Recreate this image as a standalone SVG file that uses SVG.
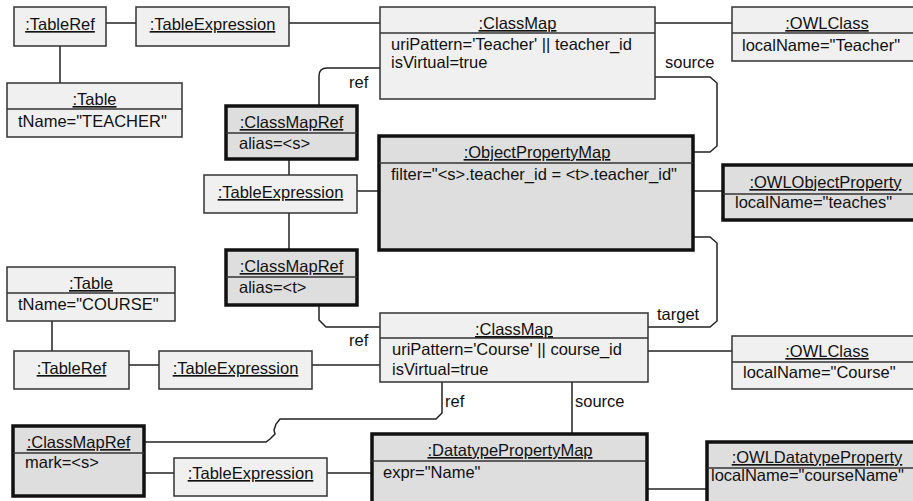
<svg xmlns="http://www.w3.org/2000/svg" width="913" height="501" viewBox="0 0 913 501">
  <style>
    text { font-family: "Liberation Sans", Arial, sans-serif; font-size: 16.5px; fill: #111; }
    .t { text-anchor: middle; text-decoration: underline; }
    .lt { fill: #f0f0f0; stroke: #333; stroke-width: 1.5; }
    .dk { fill: #dedede; stroke: #111; stroke-width: 3.5; }
    .dv { stroke: #333; stroke-width: 1.5; }
    .cn { fill: none; stroke: #222; stroke-width: 1.5; }
  </style>

  <rect width="913" height="501" fill="#ffffff"/>

  <!-- connectors -->
  <g id="connectors">
    <line class="cn" x1="106" y1="23" x2="136" y2="23"/>
    <line class="cn" x1="289" y1="23" x2="380" y2="23"/>
    <line class="cn" x1="60" y1="46" x2="60" y2="83"/>
    <line class="cn" x1="655" y1="23" x2="732" y2="23"/>
    <path class="cn" d="M380,68 H327 Q319,68 319,76 V106"/>
    <text x="349" y="88">ref</text>
    <path class="cn" d="M655,77 H710 L717,83 V146 L710,152 H693"/>
    <text x="665" y="68">source</text>
    <line class="cn" x1="289" y1="159" x2="289" y2="175"/>
    <line class="cn" x1="357" y1="191" x2="379" y2="191"/>
    <line class="cn" x1="693" y1="191" x2="723" y2="191"/>
    <line class="cn" x1="289" y1="213" x2="289" y2="250"/>
    <path class="cn" d="M319,305 V320 L326,327 H380"/>
    <text x="349" y="346">ref</text>
    <path class="cn" d="M693,237 H710 L717,243 V321 L710,327 H648"/>
    <text x="657" y="320">target</text>
    <line class="cn" x1="52" y1="321" x2="52" y2="351"/>
    <line class="cn" x1="129" y1="365" x2="159" y2="365"/>
    <line class="cn" x1="312" y1="365" x2="380" y2="365"/>
    <line class="cn" x1="648" y1="351" x2="732" y2="351"/>
    <path class="cn" d="M442,382 V413 L436,419 H280 L276,424 L274,430 L275,434 L270,439 L266,442 H144"/>
    <text x="445" y="407">ref</text>
    <line class="cn" x1="572" y1="382" x2="572" y2="434"/>
    <text x="575" y="407">source</text>
    <line class="cn" x1="144" y1="473" x2="174" y2="473"/>
    <line class="cn" x1="327" y1="473" x2="372" y2="473"/>
    <line class="cn" x1="647" y1="489" x2="707" y2="489"/>
  </g>

  <!-- nodes -->
  <g id="tableref-teacher">
    <rect class="lt" x="14" y="7" width="92" height="39"/>
    <text class="t" x="60" y="30">:TableRef</text>
  </g>
  <g id="tableexpr-teacher">
    <rect class="lt" x="136" y="7" width="153" height="39"/>
    <text class="t" x="212.5" y="30">:TableExpression</text>
  </g>
  <g id="classmap-teacher">
    <rect class="lt" x="380" y="7" width="275" height="92"/>
    <line class="dv" x1="380" y1="33" x2="655" y2="33"/>
    <text class="t" x="517.5" y="29">:ClassMap</text>
    <text x="391" y="50">uriPattern='Teacher' || teacher_id</text>
    <text x="391" y="68">isVirtual=true</text>
  </g>
  <g id="owlclass-teacher">
    <rect class="lt" x="732" y="7" width="190" height="54"/>
    <line class="dv" x1="732" y1="33" x2="922" y2="33"/>
    <text class="t" x="827" y="29">:OWLClass</text>
    <text x="742" y="51">localName="Teacher"</text>
  </g>
  <g id="table-teacher">
    <rect class="lt" x="7" y="83" width="175" height="54"/>
    <line class="dv" x1="7" y1="109" x2="182" y2="109"/>
    <text class="t" x="94.5" y="105">:Table</text>
    <text x="18" y="127">tName="TEACHER"</text>
  </g>
  <g id="classmapref-s">
    <rect class="dk" x="226" y="106" width="131" height="53"/>
    <line class="dv" x1="226" y1="133" x2="357" y2="133"/>
    <text class="t" x="291.5" y="128">:ClassMapRef</text>
    <text x="239" y="149">alias=&lt;s&gt;</text>
  </g>
  <g id="tableexpr-join">
    <rect class="lt" x="204" y="175" width="153" height="38"/>
    <text class="t" x="280.5" y="198">:TableExpression</text>
  </g>
  <g id="objectpropertymap">
    <rect class="dk" x="379" y="136" width="314" height="114"/>
    <line class="dv" x1="379" y1="163" x2="693" y2="163"/>
    <text class="t" x="537" y="158">:ObjectPropertyMap</text>
    <text x="391" y="180">filter="&lt;s&gt;.teacher_id = &lt;t&gt;.teacher_id"</text>
  </g>
  <g id="owlobjectproperty">
    <rect class="dk" x="723" y="165" width="205" height="55"/>
    <line class="dv" x1="723" y1="194" x2="928" y2="194"/>
    <text class="t" x="825.5" y="188">:OWLObjectProperty</text>
    <text x="735" y="208">localName="teaches"</text>
  </g>
  <g id="classmapref-t">
    <rect class="dk" x="226" y="250" width="131" height="55"/>
    <line class="dv" x1="226" y1="277" x2="357" y2="277"/>
    <text class="t" x="291.5" y="272">:ClassMapRef</text>
    <text x="239" y="293">alias=&lt;t&gt;</text>
  </g>
  <g id="table-course">
    <rect class="lt" x="7" y="267" width="168" height="54"/>
    <line class="dv" x1="7" y1="293" x2="175" y2="293"/>
    <text class="t" x="91" y="289">:Table</text>
    <text x="18" y="310">tName="COURSE"</text>
  </g>
  <g id="classmap-course">
    <rect class="lt" x="380" y="313" width="268" height="69"/>
    <line class="dv" x1="380" y1="338" x2="648" y2="338"/>
    <text class="t" x="514" y="335">:ClassMap</text>
    <text x="392" y="355">uriPattern='Course' || course_id</text>
    <text x="392" y="375">isVirtual=true</text>
  </g>
  <g id="owlclass-course">
    <rect class="lt" x="732" y="336" width="190" height="53"/>
    <line class="dv" x1="732" y1="362" x2="922" y2="362"/>
    <text class="t" x="827" y="357">:OWLClass</text>
    <text x="743" y="378">localName="Course"</text>
  </g>
  <g id="tableref-course">
    <rect class="lt" x="14" y="351" width="115" height="38"/>
    <text class="t" x="71.5" y="374">:TableRef</text>
  </g>
  <g id="tableexpr-course">
    <rect class="lt" x="159" y="351" width="153" height="38"/>
    <text class="t" x="235.5" y="374">:TableExpression</text>
  </g>
  <g id="classmapref-mark">
    <rect class="dk" x="13" y="426" width="131" height="70"/>
    <line class="dv" x1="13" y1="453" x2="144" y2="453"/>
    <text class="t" x="78.5" y="448">:ClassMapRef</text>
    <text x="25" y="468">mark=&lt;s&gt;</text>
  </g>
  <g id="tableexpr-datatype">
    <rect class="lt" x="174" y="458" width="153" height="38"/>
    <text class="t" x="250.5" y="479">:TableExpression</text>
  </g>
  <g id="datatypepropertymap">
    <rect class="dk" x="372" y="434" width="275" height="80"/>
    <line class="dv" x1="372" y1="461" x2="647" y2="461"/>
    <text class="t" x="510" y="456">:DatatypePropertyMap</text>
    <text x="383" y="478">expr="Name"</text>
  </g>
  <g id="owldatatypeproperty">
    <rect class="dk" x="707" y="442" width="220" height="70"/>
    <line class="dv" x1="707" y1="468" x2="927" y2="468"/>
    <text class="t" x="817" y="463">:OWLDatatypeProperty</text>
    <text x="711" y="481">localName="courseName"</text>
  </g>
</svg>
